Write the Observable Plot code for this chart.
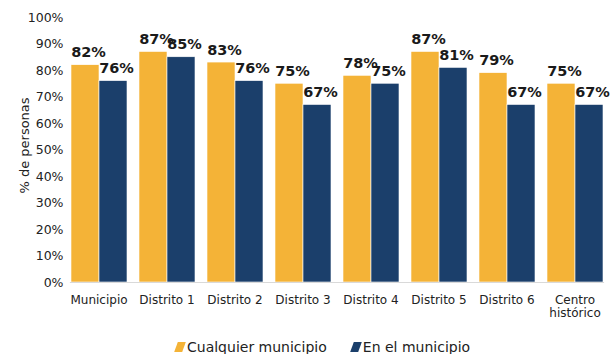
<!DOCTYPE html>
<html><head><meta charset="utf-8">
<script src="https://cdn.jsdelivr.net/npm/d3@7"></script>
<script src="https://cdn.jsdelivr.net/npm/@observablehq/plot@0.6"></script>
<style>
body{margin:0;background:#fff;font-family:"DejaVu Sans",sans-serif;}
#legend{display:flex;align-items:center;margin-left:176px;height:20px;font-size:14px;color:#222;}
.item{display:flex;align-items:center;margin-right:25px;}
.sw{width:8px;height:10px;transform:skewX(-20deg);margin-right:3px;}
</style>
</head><body>
<div id="chart"></div>
<div id="legend"></div>
<script>
const categories = ["Municipio","Distrito 1","Distrito 2","Distrito 3","Distrito 4","Distrito 5","Distrito 6","Centro histórico"];
const series = ["Cualquier municipio","En el municipio"];
const cualquier = [0.82,0.87,0.83,0.75,0.78,0.87,0.79,0.75];
const enEl = [0.76,0.85,0.76,0.67,0.75,0.81,0.67,0.67];
const colors = ["#F4B337","#1B3F6B"];
const yTicks = [0,0.1,0.2,0.3,0.4,0.5,0.6,0.7,0.8,0.9,1];
const yTitle = "% de personas";

const data = [];
categories.forEach((c,i)=>{
  data.push({cat:c, series:series[0], value:cualquier[i]});
  data.push({cat:c, series:series[1], value:enEl[i]});
});

const chart = Plot.plot({
  width: 611, height: 337,
  marginTop: 17, marginLeft: 64, marginRight: 1, marginBottom: 55,
  style: {fontFamily: "DejaVu Sans", fontSize: "12px", color: "#222", background: "#fff"},
  fx: {domain: categories, paddingInner: 0.16, paddingOuter: 0.09, label: null, axis: null},
  x: {domain: series, padding: 0, axis: null},
  y: {domain: [0,1], axis: null},
  color: {domain: series, range: colors},
  marks: [
    Plot.axisFx({anchor: "bottom", tickSize: 0, tickPadding: 12, lineHeight: 1.1, fontSize: 12, label: null,
      tickFormat: d => d.replace(" histórico", "\nhistórico")}),
    Plot.axisY({ticks: yTicks, tickFormat: d3.format(".0%"), tickSize: 0, tickPadding: 7, fontSize: 12.5, label: null}),
    Plot.text([yTitle], {frameAnchor: "left", rotate: -90, textAnchor: "middle", dx: -46, dy: -4.5, fontSize: 13, fill: "#222", facet: "super"}),
    Plot.barY(data, {fx: "cat", x: "series", y: "value", fill: "series", stroke: "#fff", strokeWidth: 0.6}),
    Plot.text(data, {fx: "cat", x: "series", y: "value", text: d => d3.format(".0%")(d.value),
      dy: -8, dx: 3, lineAnchor: "bottom", fontWeight: "bold", fontSize: 14.5, fill: "#1a1a1a"}),
    Plot.frame({anchor: "bottom", stroke: "#d9d9d9", strokeWidth: 1.2, facet: "super"})
  ]
});
document.getElementById("chart").appendChild(chart);

const legend = document.getElementById("legend");
series.forEach((s,i)=>{
  const it = document.createElement("div"); it.className = "item";
  const sw = document.createElement("span"); sw.className = "sw"; sw.style.background = colors[i];
  const t = document.createElement("span"); t.textContent = s;
  it.appendChild(sw); it.appendChild(t); legend.appendChild(it);
});
</script>
</body></html>
